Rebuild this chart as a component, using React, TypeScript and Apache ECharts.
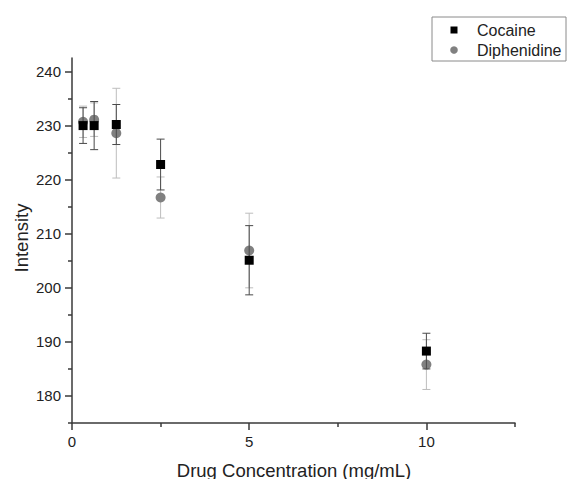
import React, { useEffect, useRef } from "react";
import * as echarts from "echarts";

const xValues = [0.3125, 0.625, 1.25, 2.5, 5, 10];
const cocaine = [230.0, 230.0, 230.2, 222.8, 205.1, 188.3];
const cocaineErr = [3.3, 4.45, 3.7, 4.7, 6.4, 3.3];
const diphenidine = [230.7, 231.1, 228.6, 216.7, 206.9, 185.8];
const diphenidineErr = [2.9, 3.1, 8.3, 3.8, 6.9, 4.6];

const xMajorTicks = [0, 5, 10];
const xMinorTicks = [2.5, 7.5, 12.5];
const yMajorTicks = [180, 190, 200, 210, 220, 230, 240];
const yMinorTicks = [175, 185, 195, 205, 215, 225, 235];

const FONT = "'Liberation Sans', Arial, Helvetica, sans-serif";
const AXIS_COLOR = "#3a3a3a";

function errorSeries(name: string, values: number[], errs: number[], color: string, z: number) {
  return {
    name,
    type: "custom",
    z,
    data: xValues.map((x, i) => [x, values[i] - errs[i], values[i] + errs[i]]),
    encode: { x: 0, y: [1, 2] },
    renderItem: (params: any, api: any) => {
      const x = api.value(0);
      const lo = api.coord([x, api.value(1)]);
      const hi = api.coord([x, api.value(2)]);
      const hw = 4;
      const style = { stroke: color, lineWidth: 1 };
      return {
        type: "group",
        children: [
          { type: "line", shape: { x1: hi[0], y1: hi[1], x2: lo[0], y2: lo[1] }, style },
          { type: "line", shape: { x1: hi[0] - hw, y1: hi[1], x2: hi[0] + hw, y2: hi[1] }, style },
          { type: "line", shape: { x1: lo[0] - hw, y1: lo[1], x2: lo[0] + hw, y2: lo[1] }, style },
        ],
      };
    },
  };
}

export default function App() {
  const ref = useRef<HTMLDivElement>(null);
  useEffect(() => {
    if (!ref.current) return;
    const chart = echarts.init(ref.current, undefined, { renderer: "svg" });
    const axisLine = { show: true, lineStyle: { color: AXIS_COLOR, width: 1.5 } };
    chart.setOption({
      animation: false,
      backgroundColor: "#ffffff",
      grid: { left: 72, right: 53, top: 58, bottom: 56 },
      xAxis: [
        {
          type: "value",
          min: 0,
          max: 12.5,
          position: "bottom",
          axisLine,
          splitLine: { show: false },
          axisTick: { show: true, inside: false, length: 7, customValues: xMajorTicks, lineStyle: { color: AXIS_COLOR, width: 1.5 } },
          axisLabel: { show: true, customValues: xMajorTicks, margin: 11, fontSize: 15, color: "#222", fontFamily: FONT },
        },
        {
          type: "value",
          min: 0,
          max: 12.5,
          position: "bottom",
          axisLine: { show: false },
          splitLine: { show: false },
          axisTick: { show: true, inside: false, length: 4, customValues: xMinorTicks, lineStyle: { color: AXIS_COLOR, width: 1.5 } },
          axisLabel: { show: false },
        },
      ],
      yAxis: [
        {
          type: "value",
          min: 175,
          max: 242.5,
          position: "left",
          axisLine,
          splitLine: { show: false },
          axisTick: { show: true, inside: false, length: 7, customValues: yMajorTicks, lineStyle: { color: AXIS_COLOR, width: 1.5 } },
          axisLabel: { show: true, customValues: yMajorTicks, margin: 11, fontSize: 15, color: "#222", fontFamily: FONT },
        },
        {
          type: "value",
          min: 175,
          max: 242.5,
          position: "left",
          axisLine: { show: false },
          splitLine: { show: false },
          axisTick: { show: true, inside: false, length: 4, customValues: yMinorTicks, lineStyle: { color: AXIS_COLOR, width: 1.5 } },
          axisLabel: { show: false },
        },
      ],
      series: [
        errorSeries("Diphenidine error", diphenidine, diphenidineErr, "#bdbdbd", 2),
        {
          name: "Diphenidine",
          type: "scatter",
          z: 3,
          symbol: "circle",
          symbolSize: 10,
          itemStyle: { color: "#808080", opacity: 1 },
          data: xValues.map((x, i) => [x, diphenidine[i]]),
        },
        errorSeries("Cocaine error", cocaine, cocaineErr, "#4a4a4a", 4),
        {
          name: "Cocaine",
          type: "scatter",
          z: 5,
          symbol: "rect",
          symbolSize: 9,
          itemStyle: { color: "#000000", opacity: 1 },
          data: xValues.map((x, i) => [x, cocaine[i]]),
        },
      ],
      graphic: [
        {
          type: "rect",
          shape: { x: 432, y: 17, width: 134, height: 44 },
          style: { fill: "#ffffff", stroke: "#8a8a8a", lineWidth: 1 },
          z: 10,
        },
        {
          type: "rect",
          shape: { x: 450.5, y: 26.5, width: 7, height: 7 },
          style: { fill: "#000000" },
          z: 11,
        },
        {
          type: "circle",
          shape: { cx: 454, cy: 50, r: 3.8 },
          style: { fill: "#808080" },
          z: 11,
        },
        {
          type: "text",
          x: 477,
          y: 30.5,
          style: { text: "Cocaine", font: `16px ${FONT}`, fill: "#222", textAlign: "left", textVerticalAlign: "middle" },
          z: 11,
        },
        {
          type: "text",
          x: 477,
          y: 50.5,
          style: { text: "Diphenidine", font: `16px ${FONT}`, fill: "#222", textAlign: "left", textVerticalAlign: "middle" },
          z: 11,
        },
        {
          type: "text",
          x: 294,
          y: 470,
          style: { text: "Drug Concentration (mg/mL)", font: `18.5px ${FONT}`, fill: "#222", textAlign: "center", textVerticalAlign: "middle" },
        },
        {
          type: "text",
          x: 21,
          y: 238,
          rotation: Math.PI / 2,
          style: { text: "Intensity", font: `18.5px ${FONT}`, fill: "#222", textAlign: "center", textVerticalAlign: "middle" },
        },
      ],
    });
    return () => chart.dispose();
  }, []);
  return (
    <div
      ref={ref}
      style={{ position: "fixed", left: 0, top: 0, width: 568, height: 479, background: "#fff" }}
    />
  );
}
